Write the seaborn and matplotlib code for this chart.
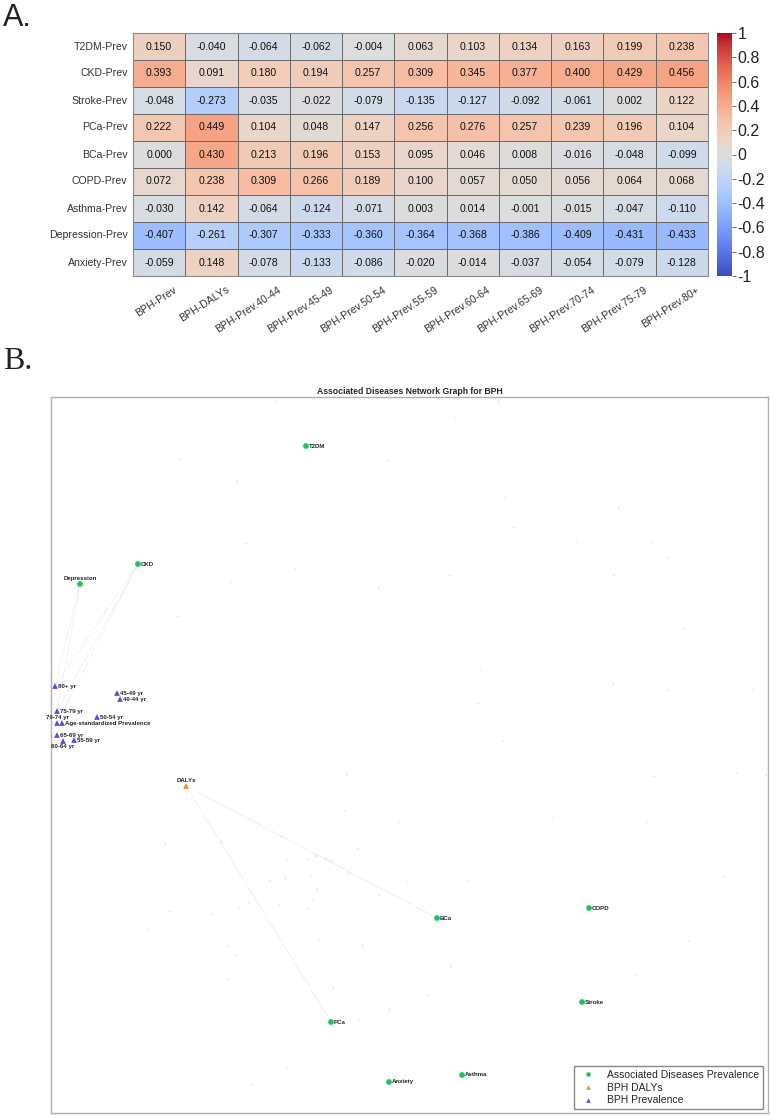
import numpy as np
import pandas as pd
import matplotlib
matplotlib.use("Agg")
import matplotlib.pyplot as plt
import matplotlib.transforms as mtransforms
import seaborn as sns

# ---- panel A data (correlation heatmap)
rows = ["T2DM-Prev", "CKD-Prev", "Stroke-Prev", "PCa-Prev", "BCa-Prev",
        "COPD-Prev", "Asthma-Prev", "Depression-Prev", "Anxiety-Prev"]
cols = ["BPH-Prev", "BPH-DALYs", "BPH-Prev.40-44", "BPH-Prev.45-49",
        "BPH-Prev.50-54", "BPH-Prev.55-59", "BPH-Prev.60-64", "BPH-Prev.65-69",
        "BPH-Prev.70-74", "BPH-Prev.75-79", "BPH-Prev.80+"]

t2dm = [0.150, -0.040, -0.064, -0.062, -0.004, 0.063, 0.103, 0.134, 0.163, 0.199, 0.238]
ckd = [0.393, 0.091, 0.180, 0.194, 0.257, 0.309, 0.345, 0.377, 0.400, 0.429, 0.456]
stroke = [-0.048, -0.273, -0.035, -0.022, -0.079, -0.135, -0.127, -0.092, -0.061, 0.002, 0.122]
pca = [0.222, 0.449, 0.104, 0.048, 0.147, 0.256, 0.276, 0.257, 0.239, 0.196, 0.104]
bca = [0.000, 0.430, 0.213, 0.196, 0.153, 0.095, 0.046, 0.008, -0.016, -0.048, -0.099]
copd = [0.072, 0.238, 0.309, 0.266, 0.189, 0.100, 0.057, 0.050, 0.056, 0.064, 0.068]
asthma = [-0.030, 0.142, -0.064, -0.124, -0.071, 0.003, 0.014, -0.001, -0.015, -0.047, -0.110]
depression = [-0.407, -0.261, -0.307, -0.333, -0.360, -0.364, -0.368, -0.386, -0.409, -0.431, -0.433]
anxiety = [-0.059, 0.148, -0.078, -0.133, -0.086, -0.020, -0.014, -0.037, -0.054, -0.079, -0.128]

cbar_ticks = [1, 0.8, 0.6, 0.4, 0.2, 0, -0.2, -0.4, -0.6, -0.8, -1]

# ---- panel B data (network layout)
node_names = ["T2DM", "CKD", "Depression", "DALYs", "BCa", "COPD", "Stroke",
              "PCa", "Asthma", "Anxiety",
              "80+ yr", "45-49 yr", "40-44 yr", "75-79 yr", "50-54 yr",
              "70-74 yr", "Age-standardized Prevalence", "65-69 yr",
              "60-64 yr", "55-59 yr"]
node_kind = (["Associated Diseases Prevalence"] * 3 + ["BPH DALYs"]
             + ["Associated Diseases Prevalence"] * 6 + ["BPH Prevalence"] * 10)
node_x = [306, 138, 80, 186, 437, 589, 582, 331, 462, 389,
          55, 117, 120, 57, 97, 57, 62, 57, 63, 74]
node_y = [446, 564, 584, 786, 918, 908, 1002, 1022, 1075, 1082,
          686, 693, 699, 711, 717, 723, 723, 735, 741, 740]

edges = [("Depression", "80+ yr"), ("Depression", "75-79 yr"),
         ("CKD", "80+ yr"), ("CKD", "75-79 yr"), ("CKD", "70-74 yr"),
         ("DALYs", "BCa"), ("DALYs", "PCa")]

# faint unlabelled nodes of the layout
bg_x = [498, 455, 504, 618, 513, 576, 652, 667, 449, 613, 683, 480, 613, 668,
        752, 478, 276, 180, 237, 388, 246, 294, 231, 378, 502, 654, 737, 765,
        552, 647, 723, 407, 468, 689, 450, 636, 427, 346, 345, 399, 281, 165,
        221, 357, 287, 307, 316, 325, 331, 348, 269, 285, 311, 317, 379, 248,
        239, 278, 312, 308, 169, 211, 319, 362, 228, 236, 227, 333, 389, 359,
        147, 287, 252, 177]
bg_y = [402, 418, 497, 508, 527, 541, 542, 557, 575, 575, 628, 669, 683, 690,
        689, 703, 401, 459, 481, 460, 543, 569, 582, 588, 741, 776, 773, 775,
        818, 822, 876, 882, 880, 941, 966, 975, 995, 774, 810, 822, 836, 843,
        842, 848, 859, 859, 856, 858, 860, 873, 880, 877, 876, 889, 894, 902,
        907, 905, 900, 908, 911, 914, 940, 946, 946, 955, 979, 988, 1010, 1019,
        929, 1068, 1084, 616]

kind_order = ["Associated Diseases Prevalence", "BPH DALYs", "BPH Prevalence"]
palette = {"Associated Diseases Prevalence": "#1fc45a",
           "BPH DALYs": "#f08a3c",
           "BPH Prevalence": "#4f4fe0"}
markers = {"Associated Diseases Prevalence": "o",
           "BPH DALYs": "^",
           "BPH Prevalence": "^"}

# label placement per node (default: right of the marker)
label_pos = {"Depression": "above", "DALYs": "above", "70-74 yr": "above",
             "60-64 yr": "below"}

sns.set_style("white")
plt.rcParams["font.family"] = ["Liberation Sans", "DejaVu Sans"]

fig = plt.figure(figsize=(7.7, 11.16), dpi=100)
W, H = 770, 1116


def px_axes(x0, y0, x1, y1):
    return fig.add_axes([x0 / W, 1 - y1 / H, (x1 - x0) / W, (y1 - y0) / H])


# ---------------- Panel A
ax = px_axes(133, 33, 708, 276)
cax = px_axes(717, 33, 732, 276)
corr = pd.DataFrame([t2dm, ckd, stroke, pca, bca, copd, asthma, depression, anxiety],
                    index=rows, columns=cols)
sns.heatmap(corr, ax=ax, cbar_ax=cax, cmap="coolwarm", vmin=-1, vmax=1,
            annot=True, fmt=".3f", annot_kws={"size": 7.6, "color": "#111111"},
            linewidths=0.6, linecolor="#6a6a6a")
ax.tick_params(length=0, pad=4)
ax.set_yticklabels(rows, rotation=0, fontsize=7.6, color="#333333")
ax.set_xticklabels(cols, rotation=33, ha="right", rotation_mode="anchor",
                   fontsize=7.6, color="#333333")
shift = mtransforms.ScaledTranslation(14 / 100, -3 / 100, fig.dpi_scale_trans)
for lab in ax.get_xticklabels():
    lab.set_transform(lab.get_transform() + shift)
ax.set_xlabel("")
ax.set_ylabel("")
for side in ["top", "right", "bottom", "left"]:
    ax.spines[side].set_visible(True)
    ax.spines[side].set_color("#8a8a8a")
    ax.spines[side].set_linewidth(0.8)

cax.set_yticks(cbar_ticks)
cax.set_yticklabels([f"{t:g}" for t in cbar_ticks], fontsize=11.5, color="#222222")
cax.tick_params(length=3, width=0.6, pad=1, color="#555555")
for sp in cax.spines.values():
    sp.set_visible(False)

fig.text(3 / W, 1 - 26 / H, "A.", fontsize=22, color="#222222", ha="left",
         va="baseline")
fig.text(3 / W, 1 - 369 / H, "B.", fontsize=23, color="#222222", ha="left",
         va="baseline", family=["Liberation Serif", "DejaVu Serif"])

# ---------------- Panel B
bx = px_axes(51, 397, 768, 1113)
bx.set_xlim(51, 768)
bx.set_ylim(1113, 397)

bx.scatter(bg_x, bg_y, s=2.5, color="#e6e6e6", linewidths=0, zorder=1)

pos = {n: (x, y) for n, x, y in zip(node_names, node_x, node_y)}
for a, b in edges:
    col = "#f3dccd" if a == "DALYs" else "#e0e8f3"
    bx.plot([pos[a][0], pos[b][0]], [pos[a][1], pos[b][1]], color=col,
            lw=0.6, alpha=0.6, zorder=2)

nodes = pd.DataFrame({"name": node_names, "kind": node_kind,
                      "x": node_x, "y": node_y})
sns.scatterplot(data=nodes, x="x", y="y", hue="kind", style="kind",
                hue_order=kind_order, style_order=kind_order,
                palette=palette, markers=markers, s=17, linewidth=0,
                ax=bx, zorder=3)

for n, x, y in zip(node_names, node_x, node_y):
    where = label_pos.get(n, "right")
    if where == "above":
        bx.annotate(n, (x, y), xytext=(0, 2.5), textcoords="offset points",
                    ha="center", va="bottom", fontsize=4.4, fontweight="bold")
    elif where == "below":
        bx.annotate(n, (x, y), xytext=(0, -2), textcoords="offset points",
                    ha="center", va="top", fontsize=4.4, fontweight="bold")
    else:
        bx.annotate(n, (x, y), xytext=(2, 0), textcoords="offset points",
                    ha="left", va="center", fontsize=4.4, fontweight="bold")

leg = bx.get_legend()
handles = leg.legend_handles
labels = [t.get_text() for t in leg.texts]
bx.legend(handles, labels, loc="lower right", fontsize=7.5, frameon=True,
          fancybox=False, edgecolor="#888888", framealpha=1,
          borderpad=0.35, handletextpad=0.8, labelspacing=0.25,
          markerscale=0.8, borderaxespad=0,
          bbox_to_anchor=(0.993, 0.0056))

bx.set_title("Associated Diseases Network Graph for BPH", fontsize=6.2,
             fontweight="bold", pad=2.5)
bx.set_xticks([])
bx.set_yticks([])
bx.set_xlabel("")
bx.set_ylabel("")
for sp in bx.spines.values():
    sp.set_visible(True)
    sp.set_color("#b0b0b0")
    sp.set_linewidth(1.0)

fig.savefig("out.png", dpi=100)
